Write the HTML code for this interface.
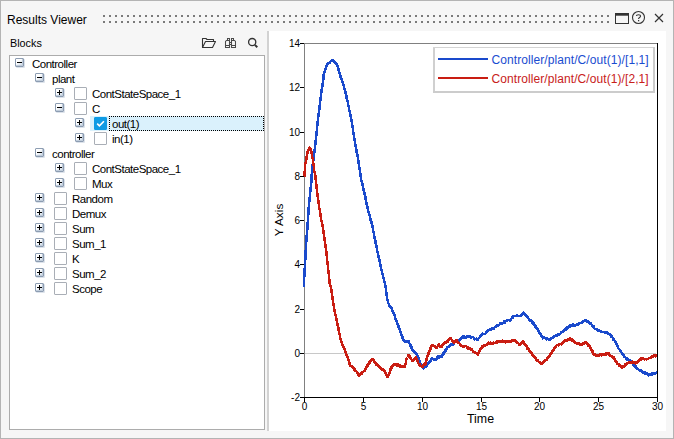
<!DOCTYPE html>
<html><head><meta charset="utf-8"><style>
html,body{margin:0;padding:0;}
body{width:674px;height:439px;position:relative;overflow:hidden;background:#f6f6f6;font-family:"Liberation Sans", sans-serif;}
.win{position:absolute;left:0;top:0;width:672px;height:437px;border:1px solid #b4b4b4;background:#f6f6f6;}
.abs{position:absolute;}
.title{position:absolute;left:7px;top:13px;font-size:12px;color:#000;white-space:nowrap;}
.blocks{position:absolute;left:10px;top:37px;font-size:10.8px;color:#000;}
.treebox{position:absolute;left:9px;top:55px;width:254px;height:373px;border:1px solid #acacac;background:#fff;}
.plot{position:absolute;left:267px;top:31px;width:399px;height:400px;background:#fff;}
.plot .lb{}
.exp{position:absolute;width:7px;height:7px;border:1px solid #8d9db2;border-radius:1px;background:linear-gradient(135deg,#ffffff 35%,#dfe7f0 70%,#c3d0de);box-shadow:inset -1px -1px 0 #c0ccda,1px 1px 0 rgba(140,160,185,0.3);}
.exp i.h{position:absolute;left:1px;top:3px;width:5px;height:1px;background:#000;}
.exp i.v{position:absolute;left:3px;top:1px;width:1px;height:5px;background:#000;}
.cb{position:absolute;width:11px;height:11px;border:1px solid #a9aeb6;border-radius:1px;background:#fff;}
.cb.on{background:#0e9be4;border-color:#0e9be4;}
.cb.on svg{position:absolute;left:-1px;top:-1px;}
.t{position:absolute;font-size:11.5px;letter-spacing:-0.5px;color:#000;white-space:nowrap;line-height:14px;}
.sel{position:absolute;background:#daf1fc;}
.focus{position:absolute;box-sizing:border-box;border:1px dotted #000;}
svg text{font-family:"Liberation Sans", sans-serif;}
.tk{font-size:10.0px;fill:#000;}
.lb{font-size:12.4px;fill:#000;}
.lg{font-size:12px;letter-spacing:0.08px;}
</style></head><body>
<div class="win"></div>
<div class="title">Results Viewer</div>
<svg class="abs" style="left:0;top:0" width="674" height="439" fill="#7a7a7a"><rect x="103" y="15" width="2" height="2"/><rect x="103" y="21" width="2" height="2"/><rect x="109" y="15" width="2" height="2"/><rect x="109" y="21" width="2" height="2"/><rect x="115" y="15" width="2" height="2"/><rect x="115" y="21" width="2" height="2"/><rect x="121" y="15" width="2" height="2"/><rect x="121" y="21" width="2" height="2"/><rect x="127" y="15" width="2" height="2"/><rect x="127" y="21" width="2" height="2"/><rect x="133" y="15" width="2" height="2"/><rect x="133" y="21" width="2" height="2"/><rect x="139" y="15" width="2" height="2"/><rect x="139" y="21" width="2" height="2"/><rect x="145" y="15" width="2" height="2"/><rect x="145" y="21" width="2" height="2"/><rect x="151" y="15" width="2" height="2"/><rect x="151" y="21" width="2" height="2"/><rect x="157" y="15" width="2" height="2"/><rect x="157" y="21" width="2" height="2"/><rect x="163" y="15" width="2" height="2"/><rect x="163" y="21" width="2" height="2"/><rect x="169" y="15" width="2" height="2"/><rect x="169" y="21" width="2" height="2"/><rect x="175" y="15" width="2" height="2"/><rect x="175" y="21" width="2" height="2"/><rect x="181" y="15" width="2" height="2"/><rect x="181" y="21" width="2" height="2"/><rect x="187" y="15" width="2" height="2"/><rect x="187" y="21" width="2" height="2"/><rect x="193" y="15" width="2" height="2"/><rect x="193" y="21" width="2" height="2"/><rect x="199" y="15" width="2" height="2"/><rect x="199" y="21" width="2" height="2"/><rect x="205" y="15" width="2" height="2"/><rect x="205" y="21" width="2" height="2"/><rect x="211" y="15" width="2" height="2"/><rect x="211" y="21" width="2" height="2"/><rect x="217" y="15" width="2" height="2"/><rect x="217" y="21" width="2" height="2"/><rect x="223" y="15" width="2" height="2"/><rect x="223" y="21" width="2" height="2"/><rect x="229" y="15" width="2" height="2"/><rect x="229" y="21" width="2" height="2"/><rect x="235" y="15" width="2" height="2"/><rect x="235" y="21" width="2" height="2"/><rect x="241" y="15" width="2" height="2"/><rect x="241" y="21" width="2" height="2"/><rect x="247" y="15" width="2" height="2"/><rect x="247" y="21" width="2" height="2"/><rect x="253" y="15" width="2" height="2"/><rect x="253" y="21" width="2" height="2"/><rect x="259" y="15" width="2" height="2"/><rect x="259" y="21" width="2" height="2"/><rect x="265" y="15" width="2" height="2"/><rect x="265" y="21" width="2" height="2"/><rect x="271" y="15" width="2" height="2"/><rect x="271" y="21" width="2" height="2"/><rect x="277" y="15" width="2" height="2"/><rect x="277" y="21" width="2" height="2"/><rect x="283" y="15" width="2" height="2"/><rect x="283" y="21" width="2" height="2"/><rect x="289" y="15" width="2" height="2"/><rect x="289" y="21" width="2" height="2"/><rect x="295" y="15" width="2" height="2"/><rect x="295" y="21" width="2" height="2"/><rect x="301" y="15" width="2" height="2"/><rect x="301" y="21" width="2" height="2"/><rect x="307" y="15" width="2" height="2"/><rect x="307" y="21" width="2" height="2"/><rect x="313" y="15" width="2" height="2"/><rect x="313" y="21" width="2" height="2"/><rect x="319" y="15" width="2" height="2"/><rect x="319" y="21" width="2" height="2"/><rect x="325" y="15" width="2" height="2"/><rect x="325" y="21" width="2" height="2"/><rect x="331" y="15" width="2" height="2"/><rect x="331" y="21" width="2" height="2"/><rect x="337" y="15" width="2" height="2"/><rect x="337" y="21" width="2" height="2"/><rect x="343" y="15" width="2" height="2"/><rect x="343" y="21" width="2" height="2"/><rect x="349" y="15" width="2" height="2"/><rect x="349" y="21" width="2" height="2"/><rect x="355" y="15" width="2" height="2"/><rect x="355" y="21" width="2" height="2"/><rect x="361" y="15" width="2" height="2"/><rect x="361" y="21" width="2" height="2"/><rect x="367" y="15" width="2" height="2"/><rect x="367" y="21" width="2" height="2"/><rect x="373" y="15" width="2" height="2"/><rect x="373" y="21" width="2" height="2"/><rect x="379" y="15" width="2" height="2"/><rect x="379" y="21" width="2" height="2"/><rect x="385" y="15" width="2" height="2"/><rect x="385" y="21" width="2" height="2"/><rect x="391" y="15" width="2" height="2"/><rect x="391" y="21" width="2" height="2"/><rect x="397" y="15" width="2" height="2"/><rect x="397" y="21" width="2" height="2"/><rect x="403" y="15" width="2" height="2"/><rect x="403" y="21" width="2" height="2"/><rect x="409" y="15" width="2" height="2"/><rect x="409" y="21" width="2" height="2"/><rect x="415" y="15" width="2" height="2"/><rect x="415" y="21" width="2" height="2"/><rect x="421" y="15" width="2" height="2"/><rect x="421" y="21" width="2" height="2"/><rect x="427" y="15" width="2" height="2"/><rect x="427" y="21" width="2" height="2"/><rect x="433" y="15" width="2" height="2"/><rect x="433" y="21" width="2" height="2"/><rect x="439" y="15" width="2" height="2"/><rect x="439" y="21" width="2" height="2"/><rect x="445" y="15" width="2" height="2"/><rect x="445" y="21" width="2" height="2"/><rect x="451" y="15" width="2" height="2"/><rect x="451" y="21" width="2" height="2"/><rect x="457" y="15" width="2" height="2"/><rect x="457" y="21" width="2" height="2"/><rect x="463" y="15" width="2" height="2"/><rect x="463" y="21" width="2" height="2"/><rect x="469" y="15" width="2" height="2"/><rect x="469" y="21" width="2" height="2"/><rect x="475" y="15" width="2" height="2"/><rect x="475" y="21" width="2" height="2"/><rect x="481" y="15" width="2" height="2"/><rect x="481" y="21" width="2" height="2"/><rect x="487" y="15" width="2" height="2"/><rect x="487" y="21" width="2" height="2"/><rect x="493" y="15" width="2" height="2"/><rect x="493" y="21" width="2" height="2"/><rect x="499" y="15" width="2" height="2"/><rect x="499" y="21" width="2" height="2"/><rect x="505" y="15" width="2" height="2"/><rect x="505" y="21" width="2" height="2"/><rect x="511" y="15" width="2" height="2"/><rect x="511" y="21" width="2" height="2"/><rect x="517" y="15" width="2" height="2"/><rect x="517" y="21" width="2" height="2"/><rect x="523" y="15" width="2" height="2"/><rect x="523" y="21" width="2" height="2"/><rect x="529" y="15" width="2" height="2"/><rect x="529" y="21" width="2" height="2"/><rect x="535" y="15" width="2" height="2"/><rect x="535" y="21" width="2" height="2"/><rect x="541" y="15" width="2" height="2"/><rect x="541" y="21" width="2" height="2"/><rect x="547" y="15" width="2" height="2"/><rect x="547" y="21" width="2" height="2"/><rect x="553" y="15" width="2" height="2"/><rect x="553" y="21" width="2" height="2"/><rect x="559" y="15" width="2" height="2"/><rect x="559" y="21" width="2" height="2"/><rect x="565" y="15" width="2" height="2"/><rect x="565" y="21" width="2" height="2"/><rect x="571" y="15" width="2" height="2"/><rect x="571" y="21" width="2" height="2"/><rect x="577" y="15" width="2" height="2"/><rect x="577" y="21" width="2" height="2"/><rect x="583" y="15" width="2" height="2"/><rect x="583" y="21" width="2" height="2"/><rect x="589" y="15" width="2" height="2"/><rect x="589" y="21" width="2" height="2"/><rect x="595" y="15" width="2" height="2"/><rect x="595" y="21" width="2" height="2"/><rect x="601" y="15" width="2" height="2"/><rect x="601" y="21" width="2" height="2"/><rect x="607" y="15" width="2" height="2"/><rect x="607" y="21" width="2" height="2"/></svg>
<svg class="abs" style="left:0;top:0" width="674" height="439">
<rect x="615.5" y="13.5" width="13" height="10" fill="none" stroke="#333" stroke-width="1"/>
<rect x="615" y="13" width="14" height="2.7" fill="#333"/>
<circle cx="638.5" cy="17.5" r="6" fill="none" stroke="#333" stroke-width="1.1"/>
<path d="M636.4,16 C636.4,14.3 640.6,14.3 640.6,16 C640.6,17.4 638.5,17.5 638.5,19" fill="none" stroke="#333" stroke-width="1.1"/>
<rect x="638" y="20" width="1.2" height="1.3" fill="#333"/>
<path d="M655,14 L663,22 M663,14 L655,22" stroke="#333" stroke-width="1.2"/>
<path d="M202.5,47.5 V38.5 H206 L207,39.5 H213.5 V41.5 M202.5,47.5 L205.5,41.5 H215.5 L212.5,47.5 Z" fill="none" stroke="#333" stroke-width="1.1" stroke-linejoin="round"/>
<path d="M227.5,40.5 V38.5 H229.5 V40.5 M231.5,40.5 V38.5 H233.5 V40.5 M229.5,40.5 H226.5 L225.5,41.5 V47.5 H229.5 Z M231.5,40.5 H234.5 L235.5,41.5 V47.5 H231.5 Z M225.5,45.5 H229.5 M231.5,45.5 H235.5 M229.5,42.5 H231.5 M229.5,44.5 H231.5" fill="none" stroke="#4a4a4a" stroke-width="1.05"/>
<circle cx="252.2" cy="42.1" r="3.6" fill="none" stroke="#333" stroke-width="1.3"/>
<path d="M254.9,44.9 L257.3,47.3" stroke="#333" stroke-width="2"/>
</svg>
<div class="blocks">Blocks</div>
<div class="treebox"></div>
<div class="exp" style="left:15px;top:58px"><i class="h"></i></div><div class="t" style="left:32px;top:57px">Controller</div><div class="exp" style="left:35px;top:73px"><i class="h"></i></div><div class="t" style="left:52px;top:72px">plant</div><div class="exp" style="left:55px;top:88px"><i class="h"></i><i class="v"></i></div><div class="cb" style="left:74px;top:87px"></div><div class="t" style="left:92px;top:87px">ContStateSpace_1</div><div class="exp" style="left:55px;top:103px"><i class="h"></i></div><div class="cb" style="left:74px;top:102px"></div><div class="t" style="left:92px;top:102px">C</div><div class="sel" style="left:90px;top:116px;width:174px;height:15px"></div><div class="focus" style="left:109px;top:116px;width:155px;height:15px"></div><div class="exp" style="left:75px;top:118px"><i class="h"></i><i class="v"></i></div><div class="cb on" style="left:94px;top:117px"><svg width="13" height="13" viewBox="0 0 13 13"><path d="M3.2 6.6 L5.4 8.9 L9.9 4.2" fill="none" stroke="#fff" stroke-width="1.6"/></svg></div><div class="t" style="left:112px;top:117px">out(1)</div><div class="exp" style="left:75px;top:133px"><i class="h"></i><i class="v"></i></div><div class="cb" style="left:94px;top:132px"></div><div class="t" style="left:112px;top:132px">in(1)</div><div class="exp" style="left:35px;top:148px"><i class="h"></i></div><div class="t" style="left:52px;top:147px">controller</div><div class="exp" style="left:55px;top:163px"><i class="h"></i><i class="v"></i></div><div class="cb" style="left:74px;top:162px"></div><div class="t" style="left:92px;top:162px">ContStateSpace_1</div><div class="exp" style="left:55px;top:178px"><i class="h"></i><i class="v"></i></div><div class="cb" style="left:74px;top:177px"></div><div class="t" style="left:92px;top:177px">Mux</div><div class="exp" style="left:35px;top:193px"><i class="h"></i><i class="v"></i></div><div class="cb" style="left:54px;top:192px"></div><div class="t" style="left:72px;top:192px">Random</div><div class="exp" style="left:35px;top:208px"><i class="h"></i><i class="v"></i></div><div class="cb" style="left:54px;top:207px"></div><div class="t" style="left:72px;top:207px">Demux</div><div class="exp" style="left:35px;top:223px"><i class="h"></i><i class="v"></i></div><div class="cb" style="left:54px;top:222px"></div><div class="t" style="left:72px;top:222px">Sum</div><div class="exp" style="left:35px;top:238px"><i class="h"></i><i class="v"></i></div><div class="cb" style="left:54px;top:237px"></div><div class="t" style="left:72px;top:237px">Sum_1</div><div class="exp" style="left:35px;top:253px"><i class="h"></i><i class="v"></i></div><div class="cb" style="left:54px;top:252px"></div><div class="t" style="left:72px;top:252px">K</div><div class="exp" style="left:35px;top:268px"><i class="h"></i><i class="v"></i></div><div class="cb" style="left:54px;top:267px"></div><div class="t" style="left:72px;top:267px">Sum_2</div><div class="exp" style="left:35px;top:283px"><i class="h"></i><i class="v"></i></div><div class="cb" style="left:54px;top:282px"></div><div class="t" style="left:72px;top:282px">Scope</div>
<div class="plot"><div style="position:absolute;left:0;top:0;width:2px;height:400px;background:#d2d2d2"></div></div>
<svg class="abs" style="left:0;top:0" width="674" height="439">
<defs><clipPath id="pc"><rect x="300" y="30" width="357" height="367"/></clipPath></defs><line x1="304" y1="353.5" x2="656" y2="353.5" stroke="#c8c8c8" stroke-width="1"/><line x1="304.5" y1="43" x2="304.5" y2="397" stroke="#808080" stroke-width="1"/><line x1="304" y1="43.5" x2="657" y2="43.5" stroke="#808080" stroke-width="1"/><g clip-path="url(#pc)"><polyline points="304.0,285.3 304.0,286.0 304.0,285.2 304.1,283.7 304.1,283.4 304.1,282.7 304.1,282.5 304.1,282.1 304.1,280.2 304.2,279.4 304.2,280.2 304.2,278.9 304.2,278.9 304.3,276.9 304.3,277.1 304.3,277.0 304.4,275.5 304.4,276.2 304.4,275.5 304.5,273.4 304.5,272.7 304.5,273.1 304.6,273.2 304.6,271.6 304.6,270.7 304.6,270.5 304.7,269.2 304.7,268.9 304.7,268.7 304.8,268.2 304.8,267.1 304.8,266.5 304.9,265.9 304.9,265.7 304.9,264.8 305.0,263.7 305.0,264.6 305.0,263.5 305.1,263.0 305.1,261.6 305.1,262.4 305.2,261.6 305.2,259.6 305.2,259.4 305.3,259.5 305.3,258.9 305.3,258.7 305.4,257.1 305.4,257.2 305.4,256.3 305.5,255.1 305.5,255.0 305.5,254.9 305.6,254.2 305.6,252.9 305.6,252.5 305.7,250.9 305.7,250.6 305.7,251.0 305.8,249.7 305.8,248.6 305.8,248.7 305.9,248.3 305.9,247.7 306.0,246.5 306.0,246.0 306.0,245.5 306.1,245.4 306.1,244.3 306.1,243.4 306.2,243.0 306.2,241.5 306.2,240.9 306.3,241.5 306.3,241.4 306.4,240.1 306.4,239.1 306.5,238.1 306.5,238.1 306.6,238.3 306.6,237.3 306.7,236.3 306.7,236.3 306.8,234.5 306.8,234.4 306.9,234.6 306.9,233.3 307.0,232.5 307.0,231.6 307.1,231.4 307.1,231.6 307.2,229.2 307.2,230.0 307.3,229.5 307.3,229.0 307.4,228.1 307.4,227.7 307.5,226.5 307.5,226.0 307.6,225.1 307.6,223.9 307.6,224.7 307.7,223.6 307.7,222.3 307.8,222.3 307.8,221.6 307.8,220.8 307.9,220.2 307.9,219.9 307.9,219.4 308.0,218.8 308.0,217.9 308.1,216.6 308.1,216.3 308.1,215.6 308.2,215.7 308.2,215.6 308.3,214.9 308.3,214.3 308.4,213.7 308.4,212.1 308.5,212.6 308.5,211.7 308.6,210.0 308.6,209.3 308.6,208.7 308.7,209.4 308.7,207.9 308.8,207.0 308.8,207.4 308.9,206.2 308.9,205.2 309.0,204.7 309.0,204.8 309.1,203.5 309.1,203.1 309.2,203.3 309.2,202.2 309.3,201.4 309.3,201.0 309.4,199.6 309.4,199.7 309.5,199.1 309.6,198.1 309.6,197.3 309.7,198.1 309.8,196.8 309.8,195.7 309.9,195.8 309.9,195.6 310.0,193.5 310.1,192.9 310.1,192.5 310.2,192.9 310.3,191.3 310.3,191.7 310.4,191.0 310.4,190.2 310.5,189.0 310.6,189.7 310.6,188.8 310.7,187.7 310.8,186.5 310.8,186.6 310.9,185.6 311.0,185.3 311.1,184.2 311.1,184.1 311.2,182.5 311.3,182.3 311.3,182.8 311.4,182.1 311.5,180.4 311.5,180.8 311.6,179.2 311.6,179.7 311.6,178.7 311.7,177.4 311.7,176.5 311.7,175.4 311.7,176.4 311.7,174.2 311.7,175.0 311.8,174.6 311.8,173.3 311.8,171.9 311.9,172.6 311.9,172.2 312.0,171.1 312.1,170.1 312.2,169.3 312.2,168.6 312.3,167.8 312.4,168.0 312.4,167.0 312.5,166.0 312.6,165.2 312.6,165.6 312.7,164.4 312.8,164.2 312.9,163.2 312.9,163.6 313.0,163.1 313.1,160.9 313.1,160.6 313.2,160.3 313.3,160.9 313.4,159.9 313.4,158.5 313.5,157.7 313.6,157.9 313.7,157.6 313.8,157.2 313.8,155.5 313.9,155.9 314.0,154.9 314.1,153.9 314.2,154.2 314.2,152.3 314.3,152.6 314.4,150.8 314.5,150.3 314.6,151.1 314.7,149.2 314.8,149.6 314.8,148.7 314.9,148.5 315.0,147.1 315.1,146.4 315.1,145.7 315.2,146.1 315.3,145.1 315.3,145.1 315.4,144.4 315.5,142.4 315.5,142.5 315.6,141.1 315.7,140.4 315.7,139.9 315.8,140.7 315.9,139.9 315.9,139.4 316.0,137.9 316.1,137.8 316.1,137.5 316.2,136.2 316.3,135.9 316.3,134.7 316.4,133.8 316.4,133.5 316.5,134.1 316.6,132.9 316.6,132.9 316.7,131.4 316.8,130.5 316.8,130.8 316.9,130.3 316.9,128.2 317.0,128.8 317.1,127.1 317.1,126.6 317.2,127.3 317.3,125.2 317.3,125.0 317.4,125.7 317.4,124.1 317.5,122.9 317.6,122.4 317.6,121.9 317.7,122.2 317.8,120.5 317.9,121.3 317.9,119.8 318.0,120.2 318.1,119.5 318.2,117.8 318.2,117.1 318.3,116.9 318.4,115.6 318.5,116.0 318.6,114.3 318.6,113.7 318.7,114.8 318.8,113.0 318.9,112.9 318.9,112.0 319.0,111.2 319.1,110.1 319.2,111.1 319.2,110.5 319.3,109.9 319.4,107.8 319.4,107.4 319.5,107.5 319.6,107.5 319.7,106.1 319.7,105.7 319.8,105.1 319.9,103.7 320.0,103.6 320.0,102.6 320.1,101.9 320.2,100.9 320.2,100.7 320.3,101.3 320.4,99.8 320.5,99.5 320.5,98.9 320.6,98.8 320.7,97.2 320.8,96.4 320.8,95.8 320.9,95.1 321.0,95.4 321.1,94.9 321.2,93.2 321.3,92.6 321.3,92.4 321.4,91.8 321.5,91.2 321.6,89.9 321.7,88.9 321.8,88.7 321.9,87.8 322.0,88.1 322.1,86.6 322.2,86.0 322.3,86.4 322.4,85.2 322.5,85.5 322.6,84.4 322.7,84.4 322.8,82.5 322.8,82.5 322.9,82.4 323.0,80.4 323.1,81.4 323.1,79.4 323.2,79.8 323.3,79.6 323.4,78.7 323.4,77.2 323.5,76.2 323.6,76.3 323.7,76.4 323.7,74.6 323.8,75.1 324.0,73.1 324.2,73.9 324.4,71.7 324.6,71.5 324.7,72.0 324.9,71.1 325.1,70.7 325.3,69.9 325.5,69.1 325.8,68.5 326.1,67.0 326.3,66.9 326.6,65.8 326.9,66.2 327.2,65.6 327.5,64.3 327.7,63.4 328.0,64.4 328.3,63.6 328.9,62.7 329.5,62.4 330.1,62.6 330.6,61.5 331.2,61.1 331.8,60.6 332.5,60.7 333.2,60.5 333.9,61.8 334.6,61.7 335.0,62.4 335.3,62.0 335.7,63.0 336.1,63.1 336.4,63.6 336.8,64.4 337.1,65.9 337.5,65.6 337.7,66.3 337.8,67.3 338.0,67.2 338.2,67.4 338.4,69.0 338.5,69.6 338.7,70.5 338.9,70.7 339.0,71.8 339.2,72.5 339.4,72.2 339.6,73.3 339.8,73.9 340.0,74.1 340.2,75.0 340.4,75.9 340.6,77.2 340.8,77.8 341.0,77.3 341.2,78.5 341.4,78.1 341.6,78.7 341.8,80.1 342.0,81.3 342.2,80.6 342.4,82.2 342.7,83.0 342.9,82.6 343.1,83.8 343.3,84.7 343.5,84.4 343.7,85.6 343.8,86.2 344.0,86.6 344.1,87.7 344.3,88.4 344.4,89.1 344.5,89.0 344.7,88.9 344.8,89.7 345.0,90.2 345.1,91.5 345.3,92.4 345.4,91.8 345.6,93.5 345.7,94.2 345.9,94.1 346.0,95.1 346.2,95.0 346.3,96.7 346.5,96.0 346.6,98.3 346.8,98.6 346.9,98.9 347.1,98.9 347.2,100.6 347.4,101.3 347.5,100.4 347.7,102.2 347.8,102.9 347.9,103.2 348.0,103.9 348.1,104.0 348.2,105.5 348.3,106.1 348.4,105.7 348.6,107.0 348.7,107.0 348.8,107.1 348.9,108.0 349.0,108.2 349.1,110.2 349.2,110.9 349.3,110.0 349.5,111.5 349.6,111.8 349.7,111.9 349.9,112.8 350.0,113.4 350.1,114.9 350.2,114.2 350.4,115.1 350.5,116.2 350.6,116.0 350.8,117.8 350.9,118.3 351.0,119.4 351.2,118.9 351.3,119.6 351.4,120.7 351.5,120.8 351.6,122.0 351.7,122.0 351.8,123.3 351.9,124.1 352.1,124.8 352.2,125.7 352.3,125.5 352.4,126.0 352.5,127.2 352.6,127.7 352.7,127.9 352.8,128.2 352.9,128.6 353.0,128.9 353.1,130.8 353.2,130.1 353.2,131.9 353.3,132.1 353.4,133.5 353.5,133.7 353.6,134.7 353.7,133.8 353.8,135.1 353.9,135.8 354.0,135.9 354.1,136.9 354.2,137.2 354.2,138.1 354.3,137.8 354.4,139.2 354.5,139.8 354.6,140.1 354.7,140.9 354.8,142.2 354.9,142.6 355.1,142.9 355.2,143.7 355.3,143.8 355.4,144.1 355.5,144.4 355.6,145.4 355.7,146.6 355.8,147.7 356.0,148.2 356.1,148.2 356.2,149.7 356.3,149.3 356.4,150.6 356.5,150.4 356.6,151.6 356.7,152.7 356.9,152.0 357.0,152.4 357.1,153.8 357.2,154.2 357.3,154.5 357.4,154.4 357.5,155.7 357.6,156.4 357.8,156.9 357.9,158.4 358.0,158.5 358.1,159.3 358.2,160.2 358.3,160.6 358.4,160.7 358.5,161.8 358.6,162.2 358.6,162.8 358.7,163.4 358.8,163.6 358.9,164.6 359.0,165.2 359.1,166.3 359.2,166.6 359.3,167.4 359.4,167.8 359.5,168.5 359.6,168.7 359.6,168.9 359.7,169.3 359.8,170.7 359.9,171.6 360.0,171.6 360.1,171.5 360.2,173.4 360.3,173.3 360.4,173.9 360.5,173.8 360.6,175.2 360.7,176.2 360.7,176.2 360.8,176.7 360.9,177.9 361.0,177.3 361.1,178.8 361.2,180.2 361.3,180.3 361.5,180.4 361.6,181.5 361.7,181.9 361.9,181.8 362.0,182.4 362.1,184.2 362.3,183.7 362.4,183.9 362.6,185.9 362.7,185.9 362.8,186.2 363.0,187.0 363.1,188.0 363.2,187.6 363.4,189.0 363.5,189.7 363.6,190.5 363.8,190.1 363.9,191.3 364.1,191.2 364.2,192.4 364.3,192.3 364.5,194.0 364.6,194.7 364.7,194.3 364.9,194.7 365.0,196.6 365.1,196.8 365.2,197.6 365.4,196.7 365.5,198.9 365.6,199.0 365.8,199.0 365.9,199.8 366.0,201.0 366.1,201.6 366.2,201.2 366.4,202.5 366.5,202.3 366.6,204.3 366.8,204.0 366.9,205.4 367.0,205.7 367.1,206.0 367.2,206.0 367.4,207.1 367.5,207.0 367.6,207.6 367.8,209.2 367.9,209.2 368.0,210.5 368.2,210.1 368.3,211.6 368.5,212.2 368.6,212.0 368.8,212.2 369.0,213.3 369.1,214.1 369.3,214.0 369.4,214.7 369.6,215.1 369.8,216.6 369.9,217.7 370.1,217.1 370.2,217.4 370.4,219.2 370.6,219.9 370.7,220.8 370.9,220.7 371.1,220.8 371.2,222.3 371.4,221.6 371.5,223.2 371.7,222.7 371.9,223.9 372.0,224.6 372.2,225.0 372.3,225.2 372.5,225.9 372.6,227.6 372.7,227.5 372.8,228.4 373.0,228.3 373.1,229.8 373.2,229.7 373.3,230.8 373.4,232.0 373.5,232.8 373.6,231.7 373.8,233.6 373.9,234.3 374.0,234.0 374.1,234.7 374.2,235.7 374.3,236.9 374.5,236.5 374.6,238.0 374.7,238.4 374.8,237.9 374.9,239.9 375.0,238.9 375.1,239.7 375.3,241.3 375.4,240.8 375.5,242.0 375.6,242.1 375.7,243.3 375.9,244.6 376.0,245.3 376.1,244.3 376.2,245.0 376.4,247.0 376.5,246.1 376.6,247.2 376.8,247.5 376.9,248.0 377.0,248.5 377.1,250.2 377.3,251.0 377.4,251.5 377.5,252.4 377.7,252.6 377.8,252.7 377.9,253.8 378.1,255.0 378.2,255.0 378.3,254.9 378.4,255.1 378.6,257.3 378.7,257.3 378.8,257.4 379.0,258.5 379.1,259.0 379.2,259.5 379.4,259.3 379.5,260.4 379.6,261.1 379.8,261.3 379.9,263.1 380.0,262.9 380.2,263.9 380.3,264.6 380.4,265.3 380.6,265.8 380.7,266.5 380.8,266.1 380.9,268.0 381.1,267.2 381.2,269.1 381.3,269.6 381.5,270.2 381.6,269.4 381.7,270.0 381.9,271.9 382.0,271.9 382.1,272.3 382.3,274.0 382.4,272.9 382.5,274.4 382.7,274.8 382.8,274.8 382.9,275.9 383.1,277.0 383.2,277.9 383.4,277.0 383.5,278.5 383.7,278.3 383.8,280.1 383.9,279.4 384.1,279.9 384.2,281.1 384.4,282.4 384.5,282.2 384.7,282.4 384.8,284.2 384.9,284.8 385.1,285.5 385.2,285.1 385.4,285.9 385.5,286.2 385.7,287.3 385.8,287.5 385.9,288.1 385.9,289.5 386.0,290.5 386.1,290.4 386.2,290.1 386.2,291.7 386.3,292.0 386.4,293.6 386.5,293.7 386.6,294.5 386.6,294.9 386.7,295.2 386.8,296.4 386.9,296.9 386.9,296.6 387.0,296.9 387.1,297.9 387.2,298.8 387.2,298.7 387.3,299.7 387.5,300.7 387.7,300.3 387.9,302.3 388.0,302.6 388.2,302.5 388.4,303.1 388.6,303.7 389.0,304.2 389.3,305.6 389.7,305.7 390.1,306.3 390.4,306.2 390.8,308.1 391.1,307.6 391.5,308.2 391.8,308.3 392.2,310.5 392.5,310.2 392.8,311.6 393.2,312.2 393.5,312.8 393.7,313.2 393.9,314.0 394.1,314.6 394.2,315.0 394.4,314.5 394.6,315.8 394.8,316.5 395.0,317.9 395.2,318.1 395.4,318.5 395.6,319.2 395.8,319.1 396.0,320.7 396.2,320.8 396.5,320.9 396.7,321.6 396.9,323.1 397.1,322.9 397.3,322.8 397.5,323.4 397.7,324.9 397.9,325.3 398.1,326.5 398.4,325.8 398.6,326.8 398.8,328.0 399.0,327.3 399.2,328.0 399.5,329.4 399.7,329.5 399.9,329.8 400.1,330.7 400.3,331.9 400.5,332.3 400.8,332.0 401.0,332.6 401.2,334.6 401.4,334.8 401.7,334.5 401.9,336.3 402.1,335.4 402.3,336.6 402.6,338.0 402.8,338.3 403.0,338.1 403.4,339.8 403.8,339.8 404.1,340.9 404.5,341.5 404.9,341.3 405.3,342.3 405.9,341.7 406.4,342.1 407.0,341.5 407.5,341.0 408.1,340.9 408.4,341.8 408.7,341.0 409.0,341.4 409.2,343.0 409.5,343.6 409.8,343.7 410.1,344.2 410.4,344.6 410.6,346.1 410.9,346.5 411.1,346.7 411.3,346.3 411.5,348.3 411.8,348.1 412.0,348.2 412.2,349.0 412.5,350.3 412.7,349.6 413.3,350.2 413.8,350.8 414.4,352.2 414.9,352.3 415.5,353.0 415.8,352.8 416.2,353.5 416.5,354.0 416.8,354.5 417.1,355.1 417.5,356.2 417.8,357.0 418.0,356.7 418.2,357.7 418.4,357.7 418.6,358.3 418.8,359.3 419.1,360.1 419.3,360.6 419.5,362.0 419.7,361.2 419.9,362.6 420.1,363.9 420.5,363.9 420.9,364.1 421.2,364.3 421.6,364.9 422.0,366.3 422.4,366.8 422.7,366.9 423.1,367.8 423.5,368.4 424.1,368.0 424.6,366.9 425.2,366.8 425.7,367.2 426.3,366.2 426.7,366.4 427.0,365.4 427.4,364.6 427.8,364.4 428.1,363.3 428.5,363.2 428.8,362.8 429.2,361.6 429.6,361.4 429.9,361.0 430.2,361.5 430.6,360.5 430.9,359.4 431.3,360.2 431.6,358.3 432.0,358.2 432.6,359.0 433.2,359.2 433.7,359.0 434.3,360.0 434.9,359.8 435.4,359.8 435.8,359.0 436.3,359.4 436.8,358.5 437.2,357.0 437.7,356.6 438.4,358.0 439.1,356.6 439.7,356.1 440.4,356.5 441.1,356.8 441.4,357.1 441.8,355.6 442.1,355.6 442.5,355.3 442.8,353.5 443.1,353.9 443.5,354.1 443.8,352.7 444.2,352.2 444.5,351.3 444.9,351.9 445.3,351.4 445.7,349.4 446.1,349.7 446.5,349.0 446.9,348.9 447.2,347.4 447.6,347.2 448.0,346.7 448.4,346.6 448.8,346.6 449.2,346.2 449.8,345.9 450.3,345.5 450.9,344.3 451.5,344.6 452.0,344.9 452.6,344.0 453.0,344.0 453.5,344.3 453.9,342.4 454.3,343.3 454.7,341.6 455.1,341.6 455.6,342.2 456.0,340.5 456.7,340.8 457.4,340.4 458.0,341.0 458.7,341.0 459.4,339.5 459.9,339.5 460.4,339.8 460.9,338.7 461.3,337.7 461.8,338.2 462.3,337.0 462.8,336.9 463.4,336.0 464.1,337.7 464.7,337.0 465.3,337.4 466.0,337.5 466.6,336.1 467.2,336.6 467.9,336.3 468.5,336.9 469.2,337.2 469.8,336.3 470.5,336.5 471.1,337.5 471.8,337.1 472.4,336.8 473.1,337.1 473.7,338.0 474.2,338.4 474.8,339.3 475.4,338.8 475.9,339.2 476.5,338.7 477.0,339.5 477.6,339.5 478.0,339.7 478.4,338.5 478.8,337.9 479.2,337.6 479.5,337.3 479.9,336.5 480.3,336.5 480.7,335.2 481.1,336.0 481.7,335.4 482.2,334.8 482.8,333.6 483.4,333.8 483.9,334.2 484.5,333.8 485.0,333.8 485.6,333.7 486.1,332.3 486.6,332.2 487.1,331.6 487.6,330.8 488.2,330.5 488.7,330.3 489.2,329.6 489.7,330.0 490.2,330.0 490.8,329.5 491.3,329.5 491.9,328.4 492.4,328.2 493.0,328.6 493.6,328.9 494.1,327.9 494.7,326.9 495.2,326.6 495.7,326.7 496.3,326.9 496.8,325.6 497.3,325.5 497.8,326.0 498.3,326.2 498.8,324.7 499.4,324.8 499.9,324.3 500.4,323.0 501.0,323.4 501.5,322.8 502.1,322.8 502.7,323.5 503.2,323.1 503.8,321.7 504.4,321.5 505.0,322.5 505.5,321.1 506.1,321.3 506.7,320.9 507.4,320.3 508.0,320.0 508.6,319.9 509.2,320.1 509.9,320.8 510.5,320.0 510.9,318.8 511.3,319.1 511.7,317.9 512.1,317.8 512.5,316.9 512.9,317.5 513.3,315.9 513.7,316.2 514.3,315.9 514.9,316.2 515.6,315.8 516.2,316.2 516.8,315.3 517.5,315.9 518.2,315.9 518.9,315.8 519.6,315.9 520.3,316.0 520.8,315.3 521.3,315.8 521.8,315.0 522.2,314.4 522.7,313.2 523.2,313.6 523.7,312.6 524.1,313.1 524.5,314.0 524.9,314.6 525.3,314.6 525.7,315.1 526.2,316.0 526.6,316.3 527.0,316.7 527.4,316.6 527.8,317.5 528.2,318.5 528.6,318.7 529.1,319.2 529.5,320.1 530.0,320.4 530.4,320.7 530.8,320.0 531.3,320.9 531.7,322.0 532.1,321.5 532.6,323.3 533.0,322.4 533.5,324.1 533.9,323.4 534.3,325.0 534.6,325.6 535.0,325.2 535.3,326.7 535.7,325.9 536.0,327.7 536.4,327.4 536.7,328.0 537.1,328.0 537.4,329.4 537.8,329.3 538.1,330.6 538.5,331.3 538.8,331.5 539.2,331.0 539.5,333.2 539.9,333.6 540.2,333.7 540.6,333.7 540.9,334.6 541.3,335.7 541.6,335.4 542.0,336.5 542.3,336.7 542.7,336.9 543.0,338.4 543.6,337.7 544.1,338.3 544.7,337.5 545.3,338.5 545.9,337.9 546.4,339.3 547.0,338.3 547.6,338.6 548.1,339.0 548.7,339.3 549.2,339.6 549.7,339.0 550.3,338.5 550.8,339.5 551.3,339.0 551.8,338.3 552.3,338.2 552.8,337.9 553.4,336.6 553.9,337.3 554.4,335.9 555.0,336.2 555.5,335.6 556.1,335.0 556.7,335.8 557.3,335.8 557.9,334.4 558.4,335.2 559.0,333.9 559.5,334.1 560.0,334.3 560.6,333.6 561.1,331.9 561.6,332.2 562.1,331.7 562.6,331.2 563.1,331.8 563.7,330.7 564.2,330.8 564.7,330.3 565.2,329.8 565.7,328.5 566.1,329.3 566.6,329.3 567.1,327.6 567.5,328.1 568.0,327.4 568.5,326.7 569.0,327.0 569.5,327.1 569.9,325.0 570.4,326.2 571.0,325.2 571.6,325.9 572.3,324.7 572.9,325.6 573.5,324.4 574.1,324.7 574.7,325.8 575.3,325.1 576.0,325.3 576.6,324.6 577.2,324.5 577.8,324.3 578.4,324.5 578.9,324.1 579.5,322.9 580.1,323.1 580.6,323.0 581.2,322.7 581.8,323.1 582.4,322.7 583.0,321.2 583.6,321.4 584.2,320.7 584.8,320.3 585.4,320.2 586.0,320.1 586.6,321.5 587.1,321.7 587.7,322.2 588.3,321.6 588.9,321.7 589.5,323.5 590.0,323.6 590.6,324.1 591.0,322.9 591.4,324.1 591.8,325.0 592.2,325.6 592.6,326.4 593.1,326.2 593.5,326.4 593.9,326.2 594.3,328.1 594.7,328.9 595.1,329.2 595.7,329.1 596.2,328.7 596.8,328.8 597.4,330.0 598.0,330.6 598.5,330.9 599.1,329.7 599.7,330.7 600.2,330.9 600.8,331.0 601.4,331.8 602.1,332.2 602.7,332.0 603.3,332.1 604.0,332.3 604.6,332.4 605.3,332.3 605.9,331.9 606.5,333.2 607.0,332.3 607.6,333.6 608.1,333.4 608.7,334.0 609.3,334.5 609.8,334.5 610.4,335.7 610.8,334.8 611.2,334.9 611.5,337.1 611.9,336.5 612.3,337.0 612.7,337.7 613.1,338.5 613.4,339.8 613.8,339.8 614.2,339.6 614.5,340.5 614.8,340.9 615.1,341.6 615.3,342.0 615.6,342.1 615.9,343.1 616.2,343.7 616.5,343.9 616.8,345.6 617.0,345.3 617.3,345.5 617.6,346.8 617.9,347.8 618.2,348.2 618.5,348.5 618.8,349.2 619.1,349.0 619.5,349.2 619.8,349.9 620.1,350.6 620.4,351.0 620.7,351.8 621.0,351.8 621.4,352.2 621.8,352.9 622.1,353.3 622.5,354.8 622.9,354.8 623.3,354.7 623.7,355.6 624.1,356.9 624.5,356.8 624.8,357.2 625.2,357.4 625.6,357.6 626.1,358.7 626.6,358.0 627.2,359.7 627.7,358.7 628.2,360.3 628.7,360.0 629.2,360.9 629.7,361.1 630.3,360.6 630.8,361.7 631.3,361.2 631.7,362.0 632.1,362.7 632.5,363.0 632.9,364.1 633.3,365.2 633.7,364.5 634.1,365.8 634.6,365.2 635.0,366.5 635.4,366.3 635.8,367.1 636.2,366.7 636.6,368.5 637.0,367.9 637.5,368.6 638.0,368.6 638.6,369.9 639.1,369.8 639.6,370.2 640.1,370.7 640.6,370.1 641.1,370.1 641.7,371.8 642.2,371.2 642.7,372.4 643.3,372.9 643.8,372.6 644.4,372.0 645.0,373.6 645.5,373.5 646.1,373.1 646.7,373.4 647.3,374.2 647.8,373.8 648.4,375.5 649.0,375.1 649.7,375.2 650.3,374.3 651.0,375.2 651.6,373.6 652.3,374.6 652.9,373.7 653.5,373.0 654.1,373.0 654.7,372.9 655.2,373.7 655.8,372.7 656.4,372.7 657.0,372.5" fill="none" stroke="#1a4acc" stroke-width="2.45" stroke-linejoin="round" shape-rendering="crispEdges"/><polyline points="304.5,176.8 304.5,176.2 304.6,174.0 304.6,173.5 304.6,174.2 304.6,173.4 304.7,172.7 304.7,171.5 304.7,171.4 304.8,170.8 304.8,170.1 304.9,168.8 304.9,168.6 304.9,167.9 305.0,167.9 305.1,167.8 305.1,167.1 305.1,165.7 305.2,164.9 305.3,164.0 305.4,162.9 305.6,162.3 305.7,162.4 305.8,161.5 305.9,161.0 306.1,161.3 306.2,160.0 306.3,159.5 306.4,158.3 306.5,157.3 306.6,157.2 306.7,156.2 306.8,156.3 306.9,156.5 307.0,155.3 307.1,153.8 307.2,154.4 307.3,153.6 307.5,152.9 307.6,152.5 307.7,151.6 307.8,151.0 308.2,149.7 308.6,150.2 308.9,149.6 309.3,147.6 310.1,149.1 310.8,149.4 310.9,149.5 311.0,150.2 311.2,150.8 311.3,152.1 311.4,152.0 311.5,153.2 311.6,152.9 311.8,154.4 311.9,155.1 312.0,154.9 312.1,155.6 312.3,156.9 312.4,157.1 312.5,157.3 312.6,157.4 312.7,158.2 312.8,159.5 312.8,159.1 312.9,161.1 313.0,160.5 313.1,162.3 313.2,161.8 313.2,163.6 313.3,163.8 313.4,164.0 313.5,164.6 313.6,165.5 313.7,166.0 313.8,166.1 313.8,166.5 313.9,167.7 314.0,169.0 314.1,169.1 314.2,168.7 314.2,170.7 314.3,171.1 314.4,172.0 314.5,171.3 314.6,173.0 314.7,172.4 314.8,174.0 314.9,174.0 315.1,174.5 315.2,176.3 315.3,175.5 315.4,176.9 315.5,178.1 315.6,177.6 315.6,178.2 315.7,180.0 315.8,179.8 315.8,180.9 315.9,180.3 316.0,181.5 316.0,181.7 316.1,183.2 316.1,182.7 316.2,184.9 316.3,183.8 316.3,185.7 316.4,185.0 316.5,186.1 316.5,187.7 316.6,187.1 316.7,187.7 316.7,189.2 316.8,189.3 316.9,189.3 317.0,191.6 317.0,190.7 317.1,191.1 317.2,192.3 317.3,193.4 317.4,194.2 317.5,193.7 317.5,194.7 317.6,194.7 317.7,196.1 317.8,197.3 317.9,197.8 317.9,198.7 318.0,199.1 318.1,199.9 318.2,200.2 318.3,200.4 318.3,200.5 318.4,201.9 318.5,201.9 318.6,202.1 318.7,203.4 318.8,204.8 318.8,204.0 318.9,205.4 319.0,205.7 319.1,206.5 319.2,206.5 319.3,208.6 319.4,207.9 319.5,209.1 319.6,209.4 319.7,209.3 319.8,210.9 319.9,210.7 320.0,211.2 320.1,211.8 320.2,212.6 320.3,213.1 320.4,214.7 320.5,215.0 320.6,216.5 320.7,217.0 320.8,217.7 320.9,217.0 321.0,218.0 321.1,218.2 321.2,219.4 321.3,220.1 321.4,221.0 321.5,221.5 321.6,221.3 321.8,222.2 321.9,222.9 322.0,222.6 322.1,223.3 322.2,224.5 322.4,224.6 322.5,226.3 322.6,226.0 322.7,226.4 322.8,227.1 323.0,227.8 323.1,228.4 323.2,229.5 323.3,230.0 323.4,230.4 323.5,231.6 323.5,231.4 323.6,233.3 323.7,234.0 323.8,234.2 323.9,234.3 324.0,235.0 324.1,235.7 324.1,235.4 324.2,236.7 324.3,237.5 324.4,237.5 324.5,237.9 324.6,239.8 324.7,239.6 324.7,240.5 324.8,241.8 324.9,241.9 325.0,241.9 325.1,243.8 325.2,243.3 325.2,243.2 325.3,245.0 325.4,244.6 325.5,245.6 325.6,247.1 325.6,247.4 325.7,246.8 325.8,248.2 325.9,248.7 325.9,249.5 326.0,249.6 326.1,250.9 326.2,250.5 326.3,251.5 326.3,252.3 326.4,253.9 326.5,252.9 326.6,254.8 326.6,254.4 326.7,255.7 326.8,256.0 326.8,256.7 326.9,257.9 327.0,257.8 327.0,258.0 327.1,258.6 327.2,259.1 327.2,261.1 327.3,261.4 327.4,262.6 327.5,262.7 327.5,262.1 327.6,263.9 327.7,264.7 327.7,265.2 327.8,265.4 327.9,265.8 327.9,266.6 328.0,267.8 328.1,267.5 328.1,268.6 328.2,269.1 328.3,270.6 328.3,271.0 328.4,271.8 328.4,272.3 328.5,271.9 328.6,272.4 328.6,273.5 328.7,273.7 328.8,274.6 328.8,275.7 328.9,276.8 329.0,276.8 329.0,277.8 329.1,277.2 329.1,278.2 329.2,280.0 329.3,279.1 329.3,280.2 329.4,280.2 329.5,280.8 329.6,282.9 329.8,283.7 329.9,283.6 330.0,283.3 330.1,284.2 330.3,284.7 330.4,286.1 330.5,286.7 330.6,286.8 330.8,287.6 330.9,287.4 331.0,288.8 331.1,290.1 331.3,290.4 331.4,289.8 331.5,291.1 331.6,292.1 331.7,291.9 331.8,293.7 331.9,293.5 332.0,294.5 332.1,294.6 332.1,296.3 332.2,296.5 332.3,296.7 332.4,296.6 332.5,297.7 332.6,297.6 332.7,299.2 332.8,300.3 332.9,299.7 333.0,300.9 333.1,301.5 333.2,301.9 333.3,303.1 333.4,304.1 333.4,304.3 333.5,304.5 333.6,306.0 333.7,305.5 333.8,306.8 333.9,307.3 334.0,308.1 334.1,308.8 334.2,308.3 334.4,309.6 334.5,309.8 334.6,310.9 334.7,312.0 334.9,312.0 335.0,311.5 335.1,312.9 335.2,313.9 335.4,314.8 335.5,315.0 335.6,315.9 335.7,315.0 335.9,317.3 336.0,317.5 336.1,317.9 336.2,319.0 336.4,319.6 336.5,318.7 336.6,320.6 336.7,321.1 336.9,320.7 337.0,322.3 337.1,322.6 337.2,322.5 337.4,324.2 337.5,323.5 337.6,325.0 337.7,325.3 337.9,325.5 338.0,326.7 338.1,327.1 338.2,327.2 338.3,329.2 338.5,328.1 338.6,328.6 338.7,330.1 338.8,331.3 338.9,331.6 339.1,332.3 339.2,332.4 339.3,333.4 339.4,333.3 339.6,333.8 339.7,334.8 339.8,334.6 339.9,335.2 340.0,337.0 340.2,336.6 340.3,338.2 340.4,338.9 340.5,338.8 340.6,339.8 340.8,340.6 340.9,341.4 341.0,340.6 341.2,341.3 341.5,342.2 341.8,342.9 342.0,343.2 342.2,343.3 342.5,344.8 342.8,346.1 343.0,345.6 343.2,346.5 343.5,346.8 343.8,347.5 344.0,348.8 344.2,348.3 344.5,349.5 344.8,349.8 345.0,350.5 345.2,351.8 345.4,350.9 345.6,352.8 345.9,352.5 346.1,353.7 346.3,354.6 346.5,354.9 346.7,355.1 346.9,356.5 347.2,355.7 347.4,357.3 347.6,357.5 347.8,358.4 348.0,359.5 348.2,360.0 348.4,360.2 348.6,360.2 348.8,360.7 349.0,361.7 349.1,361.8 349.3,362.5 349.5,364.3 349.7,363.3 349.9,365.2 350.1,364.9 350.3,365.5 350.5,366.0 351.1,365.9 351.7,366.9 352.3,366.7 352.9,367.5 353.5,367.5 353.9,369.1 354.3,369.7 354.6,369.3 355.0,370.2 355.4,371.2 355.8,370.6 356.2,370.7 356.5,371.4 356.9,371.8 357.3,373.2 357.7,373.2 358.1,373.6 358.4,374.9 358.8,374.4 359.2,376.0 359.6,375.2 360.1,374.3 360.5,374.7 361.0,373.4 361.4,373.9 361.8,373.5 362.3,372.3 362.7,372.2 363.1,372.3 363.6,371.5 364.0,371.0 364.5,370.8 364.9,370.5 365.2,369.6 365.5,369.5 365.9,367.8 366.2,367.8 366.5,367.4 366.8,366.3 367.1,365.9 367.5,364.9 367.8,365.8 368.1,364.2 368.4,363.9 368.8,364.2 369.1,362.4 369.4,363.2 369.8,361.2 370.3,360.5 370.7,360.6 371.1,360.1 371.5,360.6 372.0,360.0 372.4,359.3 372.8,359.2 373.2,359.9 373.6,359.9 374.0,361.5 374.4,361.2 374.7,361.5 375.1,362.7 375.5,362.3 375.9,363.1 376.3,364.8 376.7,363.7 377.2,364.2 377.6,364.8 378.1,365.3 378.5,366.0 378.9,366.2 379.4,366.8 379.8,367.1 380.2,367.5 380.7,368.6 381.1,368.5 381.6,369.0 382.0,370.2 382.7,369.1 383.5,369.4 384.2,370.8 384.5,370.6 384.8,371.8 385.1,371.2 385.3,372.5 385.6,373.7 385.9,373.3 386.2,374.6 386.5,374.9 386.8,375.1 387.0,376.8 387.3,376.2 387.6,377.0 387.8,376.7 388.1,375.6 388.3,375.9 388.5,374.9 388.7,374.4 389.0,373.7 389.2,374.0 389.4,373.4 389.6,372.6 389.9,371.3 390.1,370.7 390.3,370.3 390.5,368.9 390.8,368.5 391.0,369.5 391.3,367.4 391.7,368.3 392.0,367.3 392.3,367.1 392.6,365.1 393.0,364.9 393.3,365.2 393.9,363.9 394.6,364.1 395.2,364.7 395.9,364.4 396.5,364.4 397.1,365.5 397.8,364.5 398.4,366.1 399.0,365.9 399.6,365.2 400.1,367.0 400.7,366.2 401.3,367.0 402.0,367.0 402.7,366.1 403.3,366.6 404.0,365.7 404.7,365.9 404.9,366.5 405.1,365.8 405.2,364.6 405.4,364.3 405.6,364.0 405.8,362.1 405.9,362.1 406.1,360.9 406.3,360.2 406.5,359.6 406.6,359.2 406.8,358.3 407.0,358.0 407.2,357.7 407.5,357.5 407.7,357.3 407.9,356.8 408.2,355.8 408.4,354.8 408.7,356.1 409.1,355.3 409.4,355.7 409.7,357.6 410.1,357.8 410.4,357.6 410.8,358.4 411.1,358.8 411.4,359.6 411.8,360.1 412.1,360.6 412.6,361.0 413.1,360.6 413.6,359.8 414.1,359.3 414.6,358.6 415.1,359.1 415.6,359.1 416.1,357.4 416.4,358.8 416.6,359.4 416.9,359.9 417.1,359.3 417.4,360.8 417.7,360.8 417.9,361.3 418.2,362.6 418.5,363.3 418.7,363.8 419.0,364.6 419.2,365.1 419.5,365.3 420.2,364.7 420.9,366.2 421.5,366.5 422.2,366.8 422.9,366.6 423.4,365.1 423.8,365.0 424.3,364.4 424.7,364.9 425.2,364.3 425.4,363.0 425.6,363.8 425.7,363.2 425.9,362.5 426.1,361.1 426.3,360.1 426.4,359.4 426.6,359.9 426.8,359.0 427.0,357.6 427.1,358.2 427.3,356.9 427.5,356.0 427.7,355.5 427.9,355.5 428.1,354.4 428.4,354.2 428.6,352.7 428.8,353.1 429.0,351.8 429.2,352.4 429.4,350.6 429.7,350.2 429.9,350.0 430.1,349.2 430.3,348.8 430.5,348.9 430.7,346.9 431.0,347.2 431.2,346.4 431.4,345.9 432.1,345.4 432.9,345.6 433.6,345.5 434.3,345.9 434.8,345.9 435.2,346.3 435.7,347.2 436.1,347.2 436.6,348.1 437.0,347.8 437.3,346.7 437.7,345.9 438.1,346.1 438.4,346.0 438.8,344.3 439.3,345.5 439.7,346.0 440.2,346.9 440.6,347.0 441.1,346.8 441.5,346.1 442.0,346.7 442.4,345.2 442.8,344.2 443.2,345.3 443.6,343.6 444.1,343.3 444.5,342.8 445.1,342.3 445.7,342.8 446.2,341.8 446.8,341.6 447.4,341.2 448.0,341.6 448.5,339.6 448.9,340.1 449.4,338.7 449.8,338.2 450.3,338.5 450.7,338.6 451.1,338.5 451.6,339.9 452.0,340.9 452.4,340.9 452.9,341.1 453.3,342.2 453.7,342.8 454.3,341.2 454.8,341.1 455.4,342.0 455.9,341.6 456.5,340.0 456.9,341.4 457.3,342.2 457.7,342.2 458.1,342.9 458.6,343.1 459.0,343.1 459.4,343.6 459.8,343.8 460.2,345.4 460.6,344.9 461.2,345.9 461.9,345.6 462.5,345.9 463.1,346.9 463.8,346.0 464.4,346.3 465.0,346.2 465.7,346.1 466.3,346.2 466.8,347.1 467.3,347.9 467.9,346.9 468.4,348.7 468.9,348.6 469.4,347.8 469.9,349.2 470.4,349.0 471.0,349.5 471.5,349.1 472.0,350.1 472.5,350.5 472.9,351.4 473.4,351.4 473.9,352.0 474.3,352.4 474.8,351.9 475.3,351.9 475.7,353.1 476.2,352.9 476.7,353.3 477.1,354.0 477.6,354.8 477.9,354.4 478.2,353.9 478.5,353.9 478.8,351.9 479.1,352.1 479.4,350.8 479.7,351.3 480.1,350.3 480.4,349.3 480.7,349.0 481.0,349.1 481.3,348.3 481.6,348.6 481.9,347.0 482.2,346.4 482.7,347.2 483.2,346.3 483.8,345.1 484.3,346.0 484.8,344.9 485.3,345.7 485.8,344.8 486.3,344.8 486.9,344.6 487.4,343.6 487.9,344.1 488.5,342.4 489.2,343.0 489.8,343.9 490.4,342.4 491.1,343.6 491.7,344.2 492.3,343.7 493.0,344.0 493.6,342.5 494.2,343.2 494.8,343.1 495.5,342.6 496.1,342.3 496.7,342.8 497.3,341.4 497.9,341.0 498.5,341.8 499.2,342.3 499.8,341.8 500.4,341.3 501.0,340.7 501.7,341.9 502.3,340.5 502.9,340.9 503.5,342.0 504.2,342.3 504.8,341.5 505.4,342.5 506.0,341.2 506.7,342.2 507.3,341.3 508.0,341.6 508.6,341.5 509.3,341.2 510.0,341.9 510.6,341.8 511.1,341.2 511.7,341.5 512.3,340.2 512.9,340.8 513.5,340.5 514.0,340.0 514.6,340.6 515.1,339.7 515.5,340.7 516.0,341.2 516.4,341.5 516.9,343.0 517.3,342.7 517.8,343.1 518.2,343.4 518.6,343.8 519.1,345.2 519.7,344.7 520.2,344.1 520.8,342.9 521.4,343.4 522.0,342.3 522.6,342.4 523.1,341.5 523.7,342.5 524.0,343.5 524.4,343.4 524.7,343.8 525.1,343.8 525.4,344.7 525.8,345.2 526.1,345.7 526.5,345.9 526.8,346.4 527.2,347.9 527.5,348.8 527.9,349.0 528.2,349.2 528.6,348.6 529.0,349.6 529.4,351.0 529.7,351.8 530.1,351.5 530.5,352.0 530.9,352.7 531.3,352.3 531.6,353.7 532.0,353.5 532.4,354.8 532.8,354.6 533.2,355.5 533.5,355.8 533.9,356.2 534.3,356.5 534.7,357.9 535.0,358.0 535.4,357.9 535.8,358.5 536.2,359.7 536.5,359.9 536.9,360.2 537.3,361.2 537.8,360.1 538.3,361.3 538.8,361.8 539.3,361.8 539.9,363.1 540.4,363.5 540.9,362.8 541.4,363.6 541.9,364.3 542.4,363.7 542.8,362.6 543.2,363.0 543.7,361.7 544.1,360.9 544.6,361.3 545.0,360.8 545.5,360.0 545.9,359.7 546.4,360.1 546.8,359.3 547.2,358.1 547.5,358.5 547.9,357.4 548.3,356.7 548.7,356.6 549.1,356.4 549.5,356.1 549.9,355.2 550.2,354.8 550.6,353.8 551.0,352.7 551.4,352.9 551.7,351.8 552.1,352.7 552.4,351.2 552.8,351.1 553.1,350.8 553.5,349.3 553.8,349.9 554.2,348.5 554.5,347.5 554.9,347.9 555.2,347.0 555.6,347.5 556.2,346.3 556.7,345.4 557.3,345.0 557.9,344.7 558.4,345.3 559.0,345.4 559.5,343.9 560.1,344.1 560.6,344.0 561.1,344.4 561.6,344.1 562.1,343.6 562.7,342.8 563.2,342.3 563.7,341.3 564.2,341.6 564.7,340.4 565.3,340.4 565.8,341.1 566.4,340.4 567.0,340.5 567.5,339.8 568.1,339.2 568.7,339.4 569.3,339.3 569.8,338.5 570.4,339.3 570.9,339.9 571.4,338.9 571.8,339.4 572.3,340.8 572.8,341.0 573.2,340.5 573.7,341.5 574.2,341.3 574.7,342.8 575.1,342.7 575.6,342.9 576.1,342.7 576.7,343.3 577.4,343.6 578.0,343.5 578.7,343.4 579.3,343.5 580.0,344.6 580.6,345.2 581.2,344.8 581.8,344.2 582.4,344.3 583.0,342.9 583.6,342.8 584.2,343.5 584.8,342.0 585.4,342.0 586.0,343.0 586.4,342.4 586.8,342.9 587.3,343.8 587.7,345.0 588.1,344.0 588.5,346.1 588.9,345.5 589.3,346.5 589.8,346.8 590.2,346.6 590.6,348.6 590.9,347.8 591.2,349.5 591.5,350.2 591.7,350.0 592.0,351.5 592.3,350.5 592.6,351.2 592.9,352.4 593.1,352.2 593.4,354.1 593.7,354.2 594.0,355.2 594.6,354.5 595.3,354.2 595.9,355.9 596.6,354.8 597.2,355.3 597.9,355.0 598.5,356.0 599.1,355.5 599.6,354.9 600.2,354.4 600.8,354.7 601.4,355.3 602.0,354.0 602.5,353.9 603.1,354.4 603.7,354.4 604.3,354.6 604.9,354.3 605.5,354.6 606.1,353.2 606.7,354.6 607.3,352.9 607.9,353.0 608.5,352.9 609.0,354.5 609.5,354.4 610.0,355.5 610.5,356.0 611.0,356.3 611.5,356.1 612.0,356.0 612.5,357.4 613.0,357.4 613.4,357.0 613.7,358.1 614.1,357.7 614.4,358.2 614.8,359.9 615.1,360.5 615.5,361.3 615.8,361.6 616.2,361.1 616.5,362.7 616.9,363.6 617.2,363.6 617.6,363.8 618.1,363.8 618.6,363.8 619.1,365.2 619.6,366.1 620.2,365.0 620.7,366.6 621.2,367.2 621.7,366.6 622.2,367.8 622.7,366.2 623.2,366.1 623.7,366.2 624.2,366.4 624.7,365.4 625.2,364.2 625.7,365.3 626.2,364.3 626.7,364.3 627.3,363.1 628.0,363.1 628.6,362.5 629.2,362.4 629.9,362.7 630.5,362.4 631.1,362.7 631.8,362.8 632.4,361.7 633.1,362.9 633.7,362.5 634.4,362.0 635.0,361.8 635.7,363.3 636.3,362.9 637.0,361.9 637.5,362.6 637.9,361.6 638.4,361.2 638.8,361.3 639.2,359.9 639.7,359.5 640.1,359.6 640.6,359.7 641.0,357.8 641.5,358.7 642.1,358.7 642.8,357.9 643.4,358.9 644.0,359.0 644.7,359.4 645.3,359.2 645.9,359.0 646.6,359.5 647.2,359.2 647.8,359.3 648.4,358.9 648.9,358.0 649.5,357.9 650.1,357.7 650.6,357.5 651.2,357.5 651.8,357.4 652.4,356.3 653.0,356.6 653.5,355.9 654.1,355.5 654.7,355.1 655.3,356.3 655.8,356.0 656.4,355.6 657.0,354.7" fill="none" stroke="#c91d12" stroke-width="2.45" stroke-linejoin="round" shape-rendering="crispEdges"/></g><line x1="304" y1="397.5" x2="658" y2="397.5" stroke="#000" stroke-width="1"/><line x1="657.5" y1="43" x2="657.5" y2="398" stroke="#000" stroke-width="1"/><line x1="300" y1="43.5" x2="304" y2="43.5" stroke="#000" stroke-width="1"/><text x="300" y="47" text-anchor="end" class="tk">14</text><line x1="300" y1="87.5" x2="304" y2="87.5" stroke="#000" stroke-width="1"/><text x="300" y="91" text-anchor="end" class="tk">12</text><line x1="300" y1="132.5" x2="304" y2="132.5" stroke="#000" stroke-width="1"/><text x="300" y="136" text-anchor="end" class="tk">10</text><line x1="300" y1="176.5" x2="304" y2="176.5" stroke="#000" stroke-width="1"/><text x="300" y="180" text-anchor="end" class="tk">8</text><line x1="300" y1="220.5" x2="304" y2="220.5" stroke="#000" stroke-width="1"/><text x="300" y="224" text-anchor="end" class="tk">6</text><line x1="300" y1="264.5" x2="304" y2="264.5" stroke="#000" stroke-width="1"/><text x="300" y="268" text-anchor="end" class="tk">4</text><line x1="300" y1="309.5" x2="304" y2="309.5" stroke="#000" stroke-width="1"/><text x="300" y="313" text-anchor="end" class="tk">2</text><line x1="300" y1="353.5" x2="304" y2="353.5" stroke="#000" stroke-width="1"/><text x="300" y="357" text-anchor="end" class="tk">0</text><line x1="300" y1="397.5" x2="304" y2="397.5" stroke="#000" stroke-width="1"/><text x="300" y="401" text-anchor="end" class="tk">-2</text><line x1="304.5" y1="397" x2="304.5" y2="402" stroke="#000" stroke-width="1"/><text x="304.5" y="410" text-anchor="middle" class="tk">0</text><line x1="363.5" y1="397" x2="363.5" y2="402" stroke="#000" stroke-width="1"/><text x="363.5" y="410" text-anchor="middle" class="tk">5</text><line x1="422.5" y1="397" x2="422.5" y2="402" stroke="#000" stroke-width="1"/><text x="422.5" y="410" text-anchor="middle" class="tk">10</text><line x1="481.5" y1="397" x2="481.5" y2="402" stroke="#000" stroke-width="1"/><text x="481.5" y="410" text-anchor="middle" class="tk">15</text><line x1="539.5" y1="397" x2="539.5" y2="402" stroke="#000" stroke-width="1"/><text x="539.5" y="410" text-anchor="middle" class="tk">20</text><line x1="598.5" y1="397" x2="598.5" y2="402" stroke="#000" stroke-width="1"/><text x="598.5" y="410" text-anchor="middle" class="tk">25</text><line x1="657.5" y1="397" x2="657.5" y2="402" stroke="#000" stroke-width="1"/><text x="657.5" y="410" text-anchor="middle" class="tk">30</text><text x="480.5" y="423" text-anchor="middle" class="lb">Time</text><text transform="translate(283,220) rotate(-90)" text-anchor="middle" class="lb" style="font-size:11.8px">Y Axis</text><rect x="433" y="47" width="222" height="46" fill="#fff"/><rect x="433" y="47" width="2" height="46" fill="#d0d0d0"/><rect x="433" y="47" width="222" height="1" fill="#d4d4d4"/><rect x="653" y="47" width="2" height="46" fill="#cccccc"/><rect x="433" y="91" width="222" height="2" fill="#cccccc"/><rect x="438" y="58" width="50" height="2" fill="#1a4acc"/><rect x="438" y="77" width="50" height="2" fill="#c91d12"/><text x="491.5" y="64" class="lg" fill="#1a4cd0">Controller/plant/C/out(1)/[1,1]</text><text x="491.5" y="83" class="lg" fill="#c8201a">Controller/plant/C/out(1)/[2,1]</text>
</svg>
</body></html>
